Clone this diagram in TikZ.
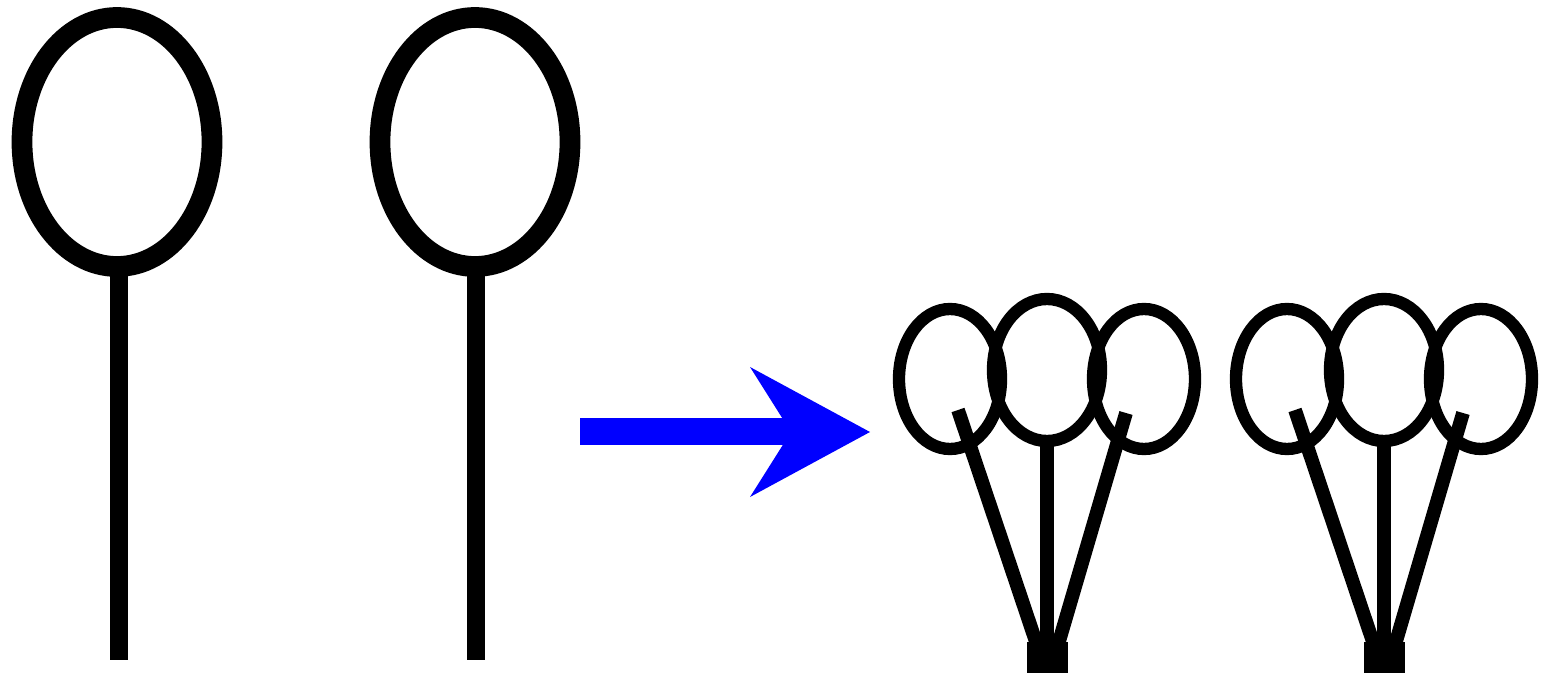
\documentclass[tikz,border=0pt]{standalone}
\usepackage{tikz}
\usetikzlibrary{calc}

\begin{document}
\begin{tikzpicture}[x=0.01cm,y=-0.01cm]
  \useasboundingbox (0,0) rectangle (1542,673);

  % two big loops on a stick
  \foreach \cx/\sx in {117/119,475/476}{
    \draw[line width=5.9pt] (\cx,142) ellipse [x radius=95, y radius=124.5];
    \draw[line width=5.2pt] (\sx,266) -- (\sx,660);
  }

  % blue arrow
  \fill[blue] (580,418) rectangle (795,445);
  \fill[blue] (750,367) -- (870,432) -- (750,497) -- (791,432) -- cycle;

  % two bunches of three small loops
  \foreach \dx in {0,337}{
    \begin{scope}[xshift=\dx*0.01cm]
      \draw[line width=3.5pt] (950,379) ellipse [x radius=51, y radius=70];
      \draw[line width=3.5pt] (1144,379) ellipse [x radius=51, y radius=70];
      \draw[line width=3.5pt] (1047,370) ellipse [x radius=54, y radius=71];
      % sticks
      \draw[line width=3.9pt] (1047,441) -- (1047,645);
      \draw[line width=3.9pt] (958,410) -- (1037,645);
      \draw[line width=3.9pt] (1126,413) -- (1058,645);
      % base
      \fill (1027,642) rectangle (1068,673);
    \end{scope}
  }
\end{tikzpicture}
\end{document}
